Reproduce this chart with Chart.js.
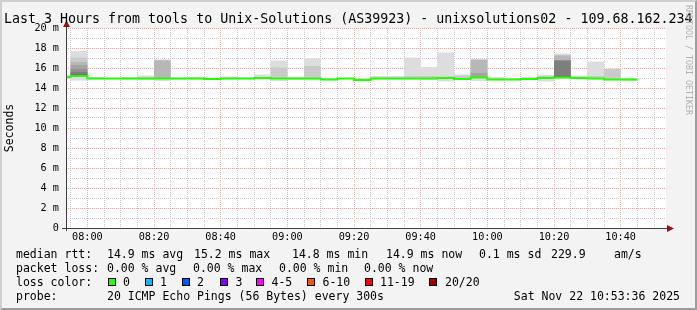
<!DOCTYPE html>
<html>
<head>
<meta charset="utf-8">
<script src="https://cdn.jsdelivr.net/npm/chart.js@4/dist/chart.umd.min.js"></script>
<style>
  body { margin: 0; }
  #wrap { position: relative; width: 697px; height: 310px; background: #f3f3f3; overflow: hidden;
          font-family: 'DejaVu Sans Mono', monospace; color: #000; }
  #frame { position: absolute; left: 0; top: 0; width: 697px; height: 310px; box-sizing: border-box;
           border-left: 2px solid #cfcfcf; border-top: 2px solid #cfcfcf;
           border-right: 2px solid #9e9e9e; border-bottom: 2px solid #9e9e9e; }
  #myChart { position: absolute; left: 0; top: 0; }
  .t { position: absolute; font-size: 11.5px; line-height: 14px; white-space: pre; }
  #title { position: absolute; left: 4px; top: 11px; font-size: 13.3px; line-height: 16px; white-space: pre; }
  #mark { position: absolute; left: 684px; top: 5px; font-size: 8.3px; line-height: 9px; color: #b0b0b0;
          writing-mode: vertical-rl; white-space: pre; }
  .sw { position: absolute; top: 278px; width: 8px; height: 8px; box-sizing: border-box; border: 1px solid #000; }
</style>
</head>
<body>
<div id="wrap">
  <div id="frame"></div>
  <canvas id="myChart" width="697" height="310"></canvas>
  <div id="title">Last 3 Hours from tools to Unix-Solutions (AS39923) - unixsolutions02 - 109.68.162.234</div>
  <div id="mark">RRDTOOL / TOBI OETIKER</div>

  <div class="t" style="left:16px;top:247px">median rtt:</div>
  <div class="t" style="left:107px;top:247px">14.9 ms avg</div>
  <div class="t" style="left:194px;top:247px">15.2 ms max</div>
  <div class="t" style="left:292px;top:247px">14.8 ms min</div>
  <div class="t" style="left:386px;top:247px">14.9 ms now</div>
  <div class="t" style="left:479px;top:247px">0.1 ms sd</div>
  <div class="t" style="left:551px;top:247px">229.9</div>
  <div class="t" style="left:614px;top:247px">am/s</div>

  <div class="t" style="left:16px;top:261px">packet loss:</div>
  <div class="t" style="left:107px;top:261px">0.00 % avg</div>
  <div class="t" style="left:193px;top:261px">0.00 % max</div>
  <div class="t" style="left:279px;top:261px">0.00 % min</div>
  <div class="t" style="left:364px;top:261px">0.00 % now</div>

  <div class="t" style="left:16px;top:275px">loss color:</div>
  <div id="lossLegend"></div>

  <div class="t" style="left:16px;top:289px">probe:</div>
  <div class="t" style="left:107px;top:289px">20 ICMP Echo Pings (56 Bytes) every 300s</div>
  <div class="t" style="right:17px;top:289px">Sat Nov 22 10:53:36 2025</div>
</div>
<script>
// time window of the graph
var startTime = '07:53:36';
var endTime = '10:53:36';
var binMinutes = 5;

// end time of each 5 minute step
var binEnds = ['07:55', '08:00', '08:05', '08:10', '08:15', '08:20', '08:25', '08:30', '08:35', '08:40',
               '08:45', '08:50', '08:55', '09:00', '09:05', '09:10', '09:15', '09:20', '09:25', '09:30',
               '09:35', '09:40', '09:45', '09:50', '09:55', '10:00', '10:05', '10:10', '10:15', '10:20',
               '10:25', '10:30', '10:35', '10:40', '10:45'];

// median rtt (ms)
var median = [15.1, 15.2, 14.95, 14.95, 14.95, 14.95, 14.95, 14.95, 14.95, 14.9, 14.95, 14.95, 15.0, 14.95, 14.95,
              14.95, 14.85, 14.95, 14.8, 14.95, 14.95, 14.95, 14.95, 15.0, 14.9, 15.05, 14.85, 14.85, 14.9, 15.0,
              15.05, 15.0, 14.95, 14.85, 14.85];

// sorted pings (ms): fastest, and the slow side of the smoke
var pingMin = [14.9, 14.75, 14.85, 14.85, 14.85, 14.8, 14.7, 14.85, 14.85, 14.8, 14.85, 14.85, 14.85, 14.7, 14.8,
               14.75, 14.75, 14.85, 14.75, 14.85, 14.85, 14.85, 14.8, 14.65, 14.8, 14.7, 14.75, 14.75, 14.8, 14.65,
               14.9, 14.85, 14.85, 14.75, 14.7];
var ping20 = [15.3, 17.7, 15.1, 15.0, 15.1, 15.25, 16.85, 15.05, 15.1, 15.05, 15.15, 15.05, 15.35, 16.75, 15.15,
              16.95, 15.0, 15.0, 15.0, 15.2, 15.2, 17.05, 16.1, 17.55, 15.35, 16.9, 15.1, 15.0, 15.1, 15.3,
              17.45, 15.25, 16.65, 15.95, 15.0];
var ping19 = [15.15, 17.05, 15.0, 14.95, 15.0, 15.05, 16.8, 15.0, 15.0, 14.95, 15.05, 14.95, 15.1, 16.05, 15.0,
              16.2, 14.9, 14.95, 14.9, 15.05, 15.05, 15.2, 15.2, 15.15, 15.25, 16.85, 15.0, 14.9, 15.0, 15.2,
              17.25, 15.1, 15.2, 15.9, 14.9];
var ping18 = [15.1, 16.6, 14.95, 14.95, 14.95, 14.95, 16.75, 14.95, 14.95, 14.9, 14.95, 14.95, 15.0, 14.95, 14.95,
              14.95, 14.85, 14.95, 14.8, 14.95, 14.95, 14.95, 14.95, 15.0, 14.9, 16.8, 14.85, 14.85, 14.9, 15.0,
              17.25, 15.0, 14.95, 14.85, 14.85];
var ping17 = [15.1, 16.3, 14.95, 14.95, 14.95, 14.95, 14.95, 14.95, 14.95, 14.9, 14.95, 14.95, 15.0, 14.95, 14.95,
              14.95, 14.85, 14.95, 14.8, 14.95, 14.95, 14.95, 14.95, 15.0, 14.9, 15.5, 14.85, 14.85, 14.9, 15.0,
              16.75, 15.0, 14.95, 14.85, 14.85];
var ping16 = [15.1, 15.9, 14.95, 14.95, 14.95, 14.95, 14.95, 14.95, 14.95, 14.9, 14.95, 14.95, 15.0, 14.95, 14.95,
              14.95, 14.85, 14.95, 14.8, 14.95, 14.95, 14.95, 14.95, 15.0, 14.9, 15.05, 14.85, 14.85, 14.9, 15.0,
              16.75, 15.0, 14.95, 14.85, 14.85];
var ping15 = [15.1, 15.6, 14.95, 14.95, 14.95, 14.95, 14.95, 14.95, 14.95, 14.9, 14.95, 14.95, 15.0, 14.95, 14.95,
              14.95, 14.85, 14.95, 14.8, 14.95, 14.95, 14.95, 14.95, 15.0, 14.9, 15.05, 14.85, 14.85, 14.9, 15.0,
              16.75, 15.0, 14.95, 14.85, 14.85];
var ping14 = [15.1, 15.35, 14.95, 14.95, 14.95, 14.95, 14.95, 14.95, 14.95, 14.9, 14.95, 14.95, 15.0, 14.95, 14.95,
              14.95, 14.85, 14.95, 14.8, 14.95, 14.95, 14.95, 14.95, 15.0, 14.9, 15.05, 14.85, 14.85, 14.9, 15.0,
              15.2, 15.0, 14.95, 14.85, 14.85];

// axis labels
var xTickLabels = ['08:00', '08:20', '08:40', '09:00', '09:20', '09:40', '10:00', '10:20', '10:40'];
var yTickLabels = ['0', '2 m', '4 m', '6 m', '8 m', '10 m', '12 m', '14 m', '16 m', '18 m', '20 m'];

// loss legend
var lossLabels = ['0', '1', '2', '3', '4-5', '6-10', '11-19', '20/20'];
var lossColors = ['#26ff00', '#00b8ff', '#0059ff', '#7e00ff', '#ff00ff', '#ff5500', '#ff0000', '#a00000'];

function toMin(s) {
  var p = s.split(':').map(Number);
  return (p[0] - 7) * 60 + p[1] + (p[2] || 0) / 60;
}

// loss colour legend swatches
var swX = [108, 145, 182, 219.5, 256, 306.5, 365, 429];
var lblX = [123, 160, 197, 235.5, 271.5, 322.5, 380, 445];
var leg = document.getElementById('lossLegend');
lossLabels.forEach(function (l, i) {
  var b = document.createElement('div');
  b.className = 'sw'; b.style.left = swX[i] + 'px'; b.style.background = lossColors[i];
  leg.appendChild(b);
  var t = document.createElement('div');
  t.className = 't'; t.style.left = lblX[i] + 'px'; t.style.top = '275px'; t.textContent = l;
  leg.appendChild(t);
});

// smoke bands, lightest (outer) first, smokeping shading
var bandTops = [ping20, ping19, ping18, ping17, ping16, ping15, ping14];
var datasets = bandTops.map(function (tops, i) {
  var g = Math.floor(190 / 10 * (10 - (i + 1))) + 50;
  return {
    type: 'bar',
    order: 10 - i,
    backgroundColor: 'rgb(' + g + ',' + g + ',' + g + ')',
    borderWidth: 0,
    inflateAmount: 0,
    grouped: false,
    barPercentage: 1,
    categoryPercentage: 1,
    data: binEnds.map(function (t, j) {
      return { x: toMin(t) - binMinutes / 2, y: [i === 0 ? pingMin[j] : median[j], tops[j]] };
    })
  };
});

var medianPts = [];
binEnds.forEach(function (t, j) {
  medianPts.push({ x: toMin(t) - binMinutes, y: median[j] }, { x: toMin(t), y: median[j] });
});
datasets.push({
  type: 'line', order: 0, data: medianPts,
  borderColor: '#26ff00', borderWidth: 2, pointRadius: 0, tension: 0, fill: false
});

var gridTicks = [];
for (var v = 55; v <= 230; v += binMinutes) gridTicks.push(v);
var xLabelAt = {};
xTickLabels.forEach(function (l) { xLabelAt[toMin(l)] = l; });

var majorColor = '#f4a8a8';
var minorColor = '#c8c8c8';
var tickFont = { family: 'DejaVu Sans Mono', size: 10.2 };

var frame = {
  id: 'frame',
  beforeDraw: function (chart) {
    var a = chart.chartArea, c = chart.ctx;
    c.save();
    c.fillStyle = '#ffffff';
    c.fillRect(a.left, a.top, a.right - a.left, a.bottom - a.top);
    c.restore();
  },
  afterDatasetsDraw: function (chart) {
    var a = chart.chartArea, c = chart.ctx;
    c.save();
    c.strokeStyle = '#404040';
    c.lineWidth = 1;
    c.beginPath();
    c.moveTo(a.left + 0.5, a.bottom + 3);
    c.lineTo(a.left + 0.5, a.top - 2);
    c.moveTo(a.left - 4, a.bottom + 0.5);
    c.lineTo(a.right + 3, a.bottom + 0.5);
    c.stroke();
    c.fillStyle = '#9a1010';
    c.beginPath();
    c.moveTo(a.left + 0.5, a.top - 7.5);
    c.lineTo(a.left - 3, a.top - 1);
    c.lineTo(a.left + 4, a.top - 1);
    c.closePath();
    c.fill();
    c.beginPath();
    c.moveTo(a.right + 8, a.bottom + 0.5);
    c.lineTo(a.right + 1, a.bottom - 3);
    c.lineTo(a.right + 1, a.bottom + 4);
    c.closePath();
    c.fill();
    c.restore();
  }
};

var ctx = document.getElementById('myChart').getContext('2d');
new Chart(ctx, {
  type: 'bar',
  data: { datasets: datasets },
  options: {
    responsive: false,
    animation: false,
    devicePixelRatio: 1,
    events: [],
    layout: { padding: { left: 0, top: 28, right: 31, bottom: 62 } },
    plugins: { legend: { display: false }, tooltip: { enabled: false } },
    scales: {
      x: {
        type: 'linear',
        min: toMin(startTime),
        max: toMin(endTime),
        offset: false,
        afterBuildTicks: function (s) { s.ticks = gridTicks.map(function (t) { return { value: t }; }); },
        afterFit: function (s) { s.height = 20; },
        ticks: {
          autoSkip: false, maxRotation: 0, padding: 3, color: '#000', font: tickFont,
          callback: function (val) { return xLabelAt[val] || ''; }
        },
        grid: {
          offset: false, drawTicks: false,
          color: function (c) { return c.tick && c.tick.value % 20 === 0 ? majorColor : minorColor; }
        },
        border: { display: false, dash: [1, 1] }
      },
      y: {
        min: 0,
        max: 20,
        afterFit: function (s) { s.width = 66; },
        title: {
          display: true, text: 'Seconds', color: '#000',
          font: { family: 'DejaVu Sans Mono', size: 11.5 }, padding: { top: 3, bottom: 0 }
        },
        ticks: {
          stepSize: 1, autoSkip: false, padding: 7, color: '#000', font: tickFont,
          callback: function (val) { return val % 2 === 0 ? yTickLabels[val / 2] : ''; }
        },
        grid: {
          drawTicks: false,
          color: function (c) { return c.tick && c.tick.value % 2 === 0 ? majorColor : minorColor; }
        },
        border: { display: false, dash: [1, 1] }
      }
    }
  },
  plugins: [frame]
});
</script>
</body>
</html>
